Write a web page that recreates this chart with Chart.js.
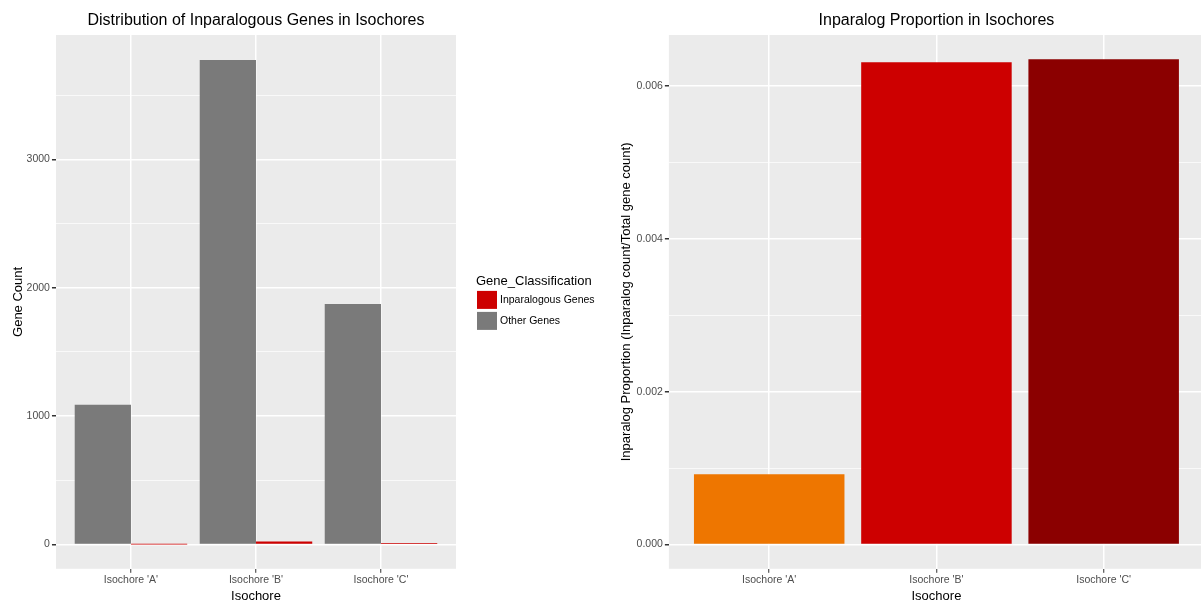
<!DOCTYPE html>
<html>
<head>
<meta charset="utf-8">
<script src="https://cdn.jsdelivr.net/npm/chart.js@4.4.1/dist/chart.umd.min.js"></script>
<style>
  html, body { margin: 0; padding: 0; background: #fff; }
  #wrap { position: relative; width: 1201px; height: 602px; overflow: hidden; }
  .panel { position: absolute; top: 0; height: 602px; }
  #left { left: 0; width: 600px; }
  #right { left: 600px; width: 606px; }
</style>
</head>
<body>
<div id="wrap">
  <div class="panel" id="left"><canvas id="countChart"></canvas></div>
  <div class="panel" id="right"><canvas id="propChart"></canvas></div>
</div>
<script>
const isochores = ["Isochore 'A'", "Isochore 'B'", "Isochore 'C'"];
const otherGenes = [1088, 3775, 1873];
const inparalogGenes = [1, 24, 12];
const countTicks = [0, 500, 1000, 1500, 2000, 2500, 3000, 3500];

const proportion = [0.00092, 0.00631, 0.00635];
const propColors = ['#EE7600', '#CD0000', '#8B0000'];
const propTicks = [0, 0.001, 0.002, 0.003, 0.004, 0.005, 0.006];

const FONT = '"Liberation Sans", Arial, sans-serif';
Chart.defaults.font.family = FONT;
Chart.defaults.animation = false;

// grey panel behind the plot area + title centred over the panel
const panel = {
  id: 'panel',
  beforeDraw(chart) {
    const { ctx, chartArea: a } = chart;
    ctx.save();
    ctx.fillStyle = '#EBEBEB';
    ctx.fillRect(a.left, a.top, a.right - a.left, a.bottom - a.top);
    ctx.restore();
  },
  afterDraw(chart, args, opts) {
    if (!opts.text) return;
    const { ctx, chartArea: a } = chart;
    ctx.save();
    ctx.font = '16px ' + FONT;
    ctx.fillStyle = '#000';
    ctx.textAlign = 'center';
    ctx.textBaseline = 'middle';
    ctx.fillText(opts.text, (a.left + a.right) / 2, 20.5);
    ctx.restore();
  }
};

// ggplot-like legend to the right of the panel, vertically centred
const sideLegend = {
  id: 'sideLegend',
  afterDraw(chart, args, opts) {
    const { ctx, chartArea: a } = chart;
    const items = chart.data.datasets.map(d => ({ text: d.label, color: d.backgroundColor })).reverse();
    const x = a.right + 20;
    const mid = (a.top + a.bottom) / 2;
    ctx.save();
    ctx.font = '13px ' + FONT;
    ctx.fillStyle = '#000';
    ctx.textBaseline = 'alphabetic';
    ctx.fillText(opts.title, x, mid - 17);
    ctx.font = '10.5px ' + FONT;
    ctx.textBaseline = 'middle';
    items.forEach((it, i) => {
      const y = mid - 11 + i * 21;
      ctx.fillStyle = it.color;
      ctx.fillRect(x + 1, y, 20, 18);
      ctx.fillStyle = '#000';
      ctx.fillText(it.text, x + 24, y + 9.5);
    });
    ctx.restore();
  }
};

const xAxis = (title) => ({
  type: 'linear',
  min: 0.4, max: 3.6,
  offset: false,
  afterBuildTicks: s => { s.ticks = [1, 2, 3].map(v => ({ value: v })); },
  grid: { offset: false, color: '#fff', lineWidth: 1.5, tickLength: 4, tickColor: '#333', tickWidth: 1 },
  border: { display: false },
  ticks: { color: '#4D4D4D', font: { size: 10.5 }, padding: 1, maxRotation: 0,
    callback: v => isochores[v - 1] },
  title: { display: true, text: title, color: '#000', font: { size: 13 }, padding: { top: 1, bottom: 0 } }
});

new Chart(document.getElementById('countChart'), {
  type: 'bar',
  data: {
    datasets: [
      { label: 'Other Genes', data: otherGenes.map((v, i) => ({ x: i + 1, y: v })), backgroundColor: '#7A7A7A' },
      { label: 'Inparalogous Genes', data: inparalogGenes.map((v, i) => ({ x: i + 1, y: v })), backgroundColor: '#CD0000' }
    ]
  },
  options: {
    responsive: true, maintainAspectRatio: false,
    categoryPercentage: 0.9, barPercentage: 1,
    layout: { padding: { left: 4, right: 144, top: 35, bottom: -2 } },
    plugins: {
      panel: { text: 'Distribution of Inparalogous Genes in Isochores' },
      sideLegend: { title: 'Gene_Classification' },
      legend: { display: false },
      tooltip: { enabled: false }
    },
    scales: {
      x: xAxis('Isochore'),
      y: {
        min: -189, max: 3969,
        afterBuildTicks: s => { s.ticks = countTicks.map(v => ({ value: v })); },
        grid: {
          color: '#fff',
          lineWidth: c => c.tick && c.tick.value % 1000 ? 0.7 : 1.5,
          tickLength: 4,
          tickColor: c => c.tick && c.tick.value % 1000 ? 'rgba(0,0,0,0)' : '#333'
        },
        border: { display: false },
        ticks: { color: '#4D4D4D', font: { size: 10.5 }, padding: 2,
          callback: v => v % 1000 === 0 ? v : '' },
        title: { display: true, text: 'Gene Count', color: '#000', font: { size: 13 }, padding: { top: 7, bottom: -2 } }
      }
    }
  },
  plugins: [panel, sideLegend]
});

new Chart(document.getElementById('propChart'), {
  type: 'bar',
  data: {
    datasets: [
      { label: 'Inparalog Proportion', data: proportion.map((v, i) => ({ x: i + 1, y: v })), backgroundColor: propColors }
    ]
  },
  options: {
    responsive: true, maintainAspectRatio: false,
    categoryPercentage: 0.9, barPercentage: 1,
    layout: { padding: { left: 12, right: 2, top: 35, bottom: -2 } },
    plugins: {
      panel: { text: 'Inparalog Proportion in Isochores' },
      legend: { display: false },
      tooltip: { enabled: false }
    },
    scales: {
      x: xAxis('Isochore'),
      y: {
        min: -0.0003175, max: 0.0066675,
        afterBuildTicks: s => { s.ticks = propTicks.map(v => ({ value: v })); },
        grid: {
          color: '#fff',
          lineWidth: c => c.index % 2 ? 0.7 : 1.5,
          tickLength: 4,
          tickColor: c => c.index % 2 ? 'rgba(0,0,0,0)' : '#333'
        },
        border: { display: false },
        ticks: { color: '#4D4D4D', font: { size: 10.5 }, padding: 2,
          callback: (v, i) => i % 2 ? '' : v.toFixed(3) },
        title: { display: true, text: 'Inparalog Proportion (Inparalog count/Total gene count)', color: '#000',
          font: { size: 13 }, padding: { top: 7, bottom: 0 } }
      }
    }
  },
  plugins: [panel]
});
</script>
</body>
</html>
